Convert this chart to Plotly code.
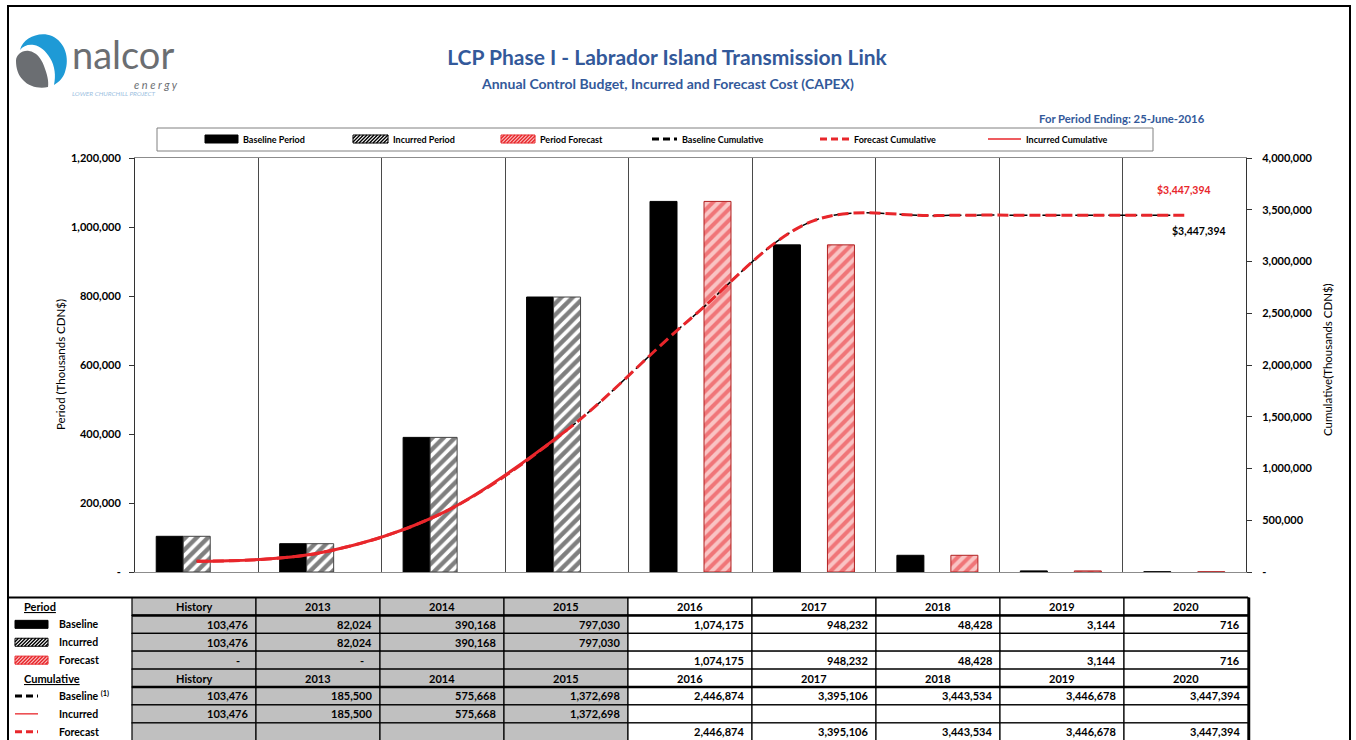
import plotly.graph_objects as go

# ---------------- data ----------------
categories = ["History", "2013", "2014", "2015", "2016", "2017", "2018", "2019", "2020"]

baseline_period = [103476, 82024, 390168, 797030, 1074175, 948232, 48428, 3144, 716]
incurred_period = [103476, 82024, 390168, 797030, None, None, None, None, None]
forecast_period = [0, 0, None, None, 1074175, 948232, 48428, 3144, 716]

baseline_cum = [103476, 185500, 575668, 1372698, 2446874, 3395106, 3443534, 3446678, 3447394]
incurred_cum = [103476, 185500, 575668, 1372698, None, None, None, None, None]
forecast_cum = [None, None, None, None, 2446874, 3395106, 3443534, 3446678, 3447394]

period_ticks = [0, 200000, 400000, 600000, 800000, 1000000, 1200000]
cum_ticks = [0, 500000, 1000000, 1500000, 2000000, 2500000, 3000000, 3500000, 4000000]

# ---------------- geometry helpers (pixels -> paper) ----------------
W, H = 1356, 740
L, R, T, B = 135, 1246, 158, 572


def fx(px):
    return (px - L) / (R - L)


def fy(py):
    return (B - py) / (B - T)


def fmt(v):
    if v is None:
        return ""
    if v == 0:
        return "-"
    return f"{v:,}"


def path_px(spec):
    """Convert an SVG path written in pixel coordinates into paper coordinates."""
    out, nums = [], []
    for tok in spec.replace(",", " ").split():
        if tok.isalpha():
            out.append(tok)
        else:
            nums.append(float(tok))
            if len(nums) == 2:
                out.append(f"{fx(nums[0]):.5f},{fy(nums[1]):.5f}")
                nums = []
    return " ".join(out)


def hatch_path(x0, y0, x1, y1, step):
    h = y1 - y0
    segs = []
    k = x0 - h
    while k < x1:
        xa, ya, xb, yb = k, y1, k + h, y0
        if xa < x0:
            ya = y1 - (x0 - xa)
            xa = x0
        if xb > x1:
            yb = y0 + (xb - x1)
            xb = x1
        if xb > xa:
            segs.append(f"M{fx(xa):.5f},{fy(ya):.5f} L{fx(xb):.5f},{fy(yb):.5f}")
        k += step
    return " ".join(segs)


BLUE = "#33599a"
RED = "#e8262b"
PINK = "#f9c4c4"
GREY_CELL = "#c0c0c0"
FONT = "Lato, 'Open Sans', sans-serif"

shapes = []
annotations = []


def swatch(kind, x0, x1, yc):
    """Small legend key drawn with shapes."""
    if kind == "bar_black":
        shapes.append(dict(type="rect", xref="paper", yref="paper", x0=fx(x0), x1=fx(x1),
                           y0=fy(yc + 4), y1=fy(yc - 4), fillcolor="black", line=dict(color="black", width=1)))
    elif kind in ("bar_hatch", "bar_red"):
        fg = "black" if kind == "bar_hatch" else RED
        bg = "white" if kind == "bar_hatch" else PINK
        shapes.append(dict(type="rect", xref="paper", yref="paper", x0=fx(x0), x1=fx(x1),
                           y0=fy(yc + 4), y1=fy(yc - 4), fillcolor=bg, line=dict(color=fg, width=1)))
        shapes.append(dict(type="path", xref="paper", yref="paper",
                           path=hatch_path(x0, yc - 4, x1, yc + 4, 3.5), line=dict(color=fg, width=1.4)))
    else:
        color = "black" if kind == "line_black_dash" else RED
        width = 1.3 if kind == "line_red" else 3
        dash = "solid" if kind == "line_red" else "7px,4px"
        shapes.append(dict(type="line", xref="paper", yref="paper", x0=fx(x0), x1=fx(x1),
                           y0=fy(yc), y1=fy(yc), line=dict(color=color, width=width, dash=dash)))


def text(x, y, s, size=11, color="black", xanchor="center", **kw):
    annotations.append(dict(xref="paper", yref="paper", x=fx(x), y=fy(y), text=s, showarrow=False,
                            xanchor=xanchor, yanchor="middle", font=dict(size=size, color=color, family=FONT), **kw))


# ---------------- chart traces ----------------
fig = go.Figure()

fig.add_bar(x=categories, y=baseline_period, name="Baseline Period",
            marker=dict(color="black", line=dict(color="black", width=1)))
fig.add_bar(x=categories, y=incurred_period, name="Incurred Period",
            marker=dict(color="white", line=dict(color="#444444", width=1),
                        pattern=dict(shape="/", fgcolor="black", bgcolor="white", size=8, solidity=0.55)))
fig.add_bar(x=categories, y=forecast_period, name="Period Forecast",
            marker=dict(color=PINK, line=dict(color="#b02020", width=[0 if not v else 1 for v in forecast_period]),
                        pattern=dict(shape="/", fgcolor=RED, bgcolor=PINK, size=8, solidity=0.5)))

# forecast cumulative line continues from the incurred actuals
forecast_line = [f if f is not None else c for f, c in zip(forecast_cum, incurred_cum)]

fig.add_scatter(x=categories, y=baseline_cum, yaxis="y2", mode="lines", name="Baseline Cumulative",
                line=dict(color="black", width=1.5, dash="7px,4px", shape="spline", smoothing=1))
fig.add_scatter(x=categories, y=forecast_line, yaxis="y2", mode="lines", name="Forecast Cumulative",
                line=dict(color=RED, width=3, dash="11px,5px", shape="spline", smoothing=1))
fig.add_scatter(x=categories, y=incurred_cum, yaxis="y2", mode="lines", name="Incurred Cumulative",
                line=dict(color=RED, width=3, shape="spline", smoothing=1))

# end-of-line value labels (category axis positions are serial indices)
last = len(categories) - 1
annotations.append(dict(xref="x", yref="y2", x=last, y=forecast_cum[-1], text=f"<b>${forecast_cum[-1]:,}</b>",
                        showarrow=False, yshift=25, font=dict(size=10.5, color=RED, family=FONT)))
annotations.append(dict(xref="x", yref="y2", x=last, y=baseline_cum[-1], text=f"<b>${baseline_cum[-1]:,}</b>",
                        showarrow=False, yshift=-16, xshift=15, font=dict(size=10.5, color="black", family=FONT)))

# ---------------- titles ----------------
text(667, 83, "<b>Annual Control Budget, Incurred and Forecast Cost (CAPEX)</b>", size=14, color=BLUE)
text(1207, 118, "<b>For Period Ending: 25-June-2016</b>", size=11.3, color=BLUE, xanchor="right")
text(60, 365, "Period (Thousands CDN$)", size=11.5, textangle=-90)
text(1327, 360, "Cumulative(Thousands CDN$)", size=11.5, textangle=-90)

# ---------------- logo ----------------
shapes.append(dict(type="path", xref="paper", yref="paper", fillcolor="#1e9ad6", line=dict(width=0),
                   path=path_px("M 20 50 C 23 38 39 31 52 36 C 65 42 70 58 65 72 C 63 78 59 82 54 85 "
                                "C 56 76 55 66 50 58 C 46 51 40 46 34 45 C 28 44 23 46 20 50 Z")))
shapes.append(dict(type="path", xref="paper", yref="paper", fillcolor="#6b6e72", line=dict(width=0),
                   path=path_px("M 16 61 C 16 55 22 50 29 51 C 36 52 41 58 44 66 C 47 74 49 81 48 87 "
                                "C 40 89 29 87 23 80 C 18 75 16 68 16 61 Z")))
text(70, 54, "nalcor", size=38, color="#6b6e72", xanchor="left")
text(180, 84, "<i>e n e r g y</i>", size=11, color="#6b6e72", xanchor="right")
text(70, 94, "<i>LOWER CHURCHILL PROJECT</i>", size=6.5, color="#9dbfdf", xanchor="left")

# ---------------- legend box ----------------
shapes.append(dict(type="rect", xref="paper", yref="paper", x0=fx(157), x1=fx(1153), y0=fy(151), y1=fy(128),
                   line=dict(color="#808080", width=1)))
legend_items = [
    ("bar_black", 205, 238, "Baseline Period"),
    ("bar_hatch", 353, 388, "Incurred Period"),
    ("bar_red", 501, 535, "Period Forecast"),
    ("line_black_dash", 652, 677, "Baseline Cumulative"),
    ("line_red_dash", 820, 849, "Forecast Cumulative"),
    ("line_red", 988, 1021, "Incurred Cumulative"),
]
for kind, a, b, label in legend_items:
    swatch(kind, a, b, 139)
    text(b + 3, 139, f"<b>{label}</b>", size=9, xanchor="left")

# ---------------- data table ----------------
TX0, TCW, TY0, TRH = 132, 124, 597.5, 17.9
shaded = [v is not None for v in incurred_period]
rows = [
    ("header", "Period", None),
    ("Baseline", baseline_period, "bar_black"),
    ("Incurred", incurred_period, "bar_hatch"),
    ("Forecast", forecast_period, "bar_red"),
    ("header", "Cumulative", None),
    ("Baseline <sup>(1)</sup>", baseline_cum, "line_black_dash"),
    ("Incurred", incurred_cum, "line_red"),
    ("Forecast", forecast_cum, "line_red_dash"),
]
for r, (label, values, key) in enumerate(rows):
    y0 = TY0 + r * TRH
    y1 = y0 + TRH
    yc = (y0 + y1) / 2
    for c, cat in enumerate(categories):
        x0 = TX0 + c * TCW
        x1 = x0 + TCW
        shapes.append(dict(type="rect", xref="paper", yref="paper", x0=fx(x0), x1=fx(x1), y0=fy(y1), y1=fy(y0),
                           fillcolor=GREY_CELL if shaded[c] else "white", line=dict(color="black", width=1.2),
                           layer="below"))
        if label == "header":
            text((x0 + x1) / 2, yc, f"<b>{cat}</b>", size=11)
        else:
            v = values[c]
            s = fmt(v)
            if s:
                pad = 14 if s == "-" else 6
                text(x1 - pad, yc, f"<b>{s}</b>", size=11, xanchor="right")
    if label == "header":
        text(22, yc, f"<b><u>{values}</u></b>", size=11, xanchor="left")
        # heavier rule under each header row
        shapes.append(dict(type="line", xref="paper", yref="paper", x0=fx(TX0), x1=fx(TX0 + 9 * TCW),
                           y0=fy(y1), y1=fy(y1), line=dict(color="black", width=2.5)))
    else:
        swatch(key, 15, 48 if key.startswith("bar") else 38, yc)
        text(57, yc, f"<b>{label}</b>", size=10.5, xanchor="left")

# table outer rules
shapes.append(dict(type="line", xref="paper", yref="paper", x0=fx(8), x1=fx(TX0 + 9 * TCW),
                   y0=fy(TY0), y1=fy(TY0), line=dict(color="black", width=2)))
shapes.append(dict(type="line", xref="paper", yref="paper", x0=fx(TX0 + 9 * TCW + 1), x1=fx(TX0 + 9 * TCW + 1),
                   y0=fy(TY0), y1=fy(H + 5), line=dict(color="black", width=2.5)))

# page frame
shapes.append(dict(type="rect", xref="paper", yref="paper", x0=fx(8), x1=fx(1350), y0=fy(H + 10), y1=fy(6),
                   line=dict(color="black", width=2)))

# ---------------- layout ----------------
fig.update_layout(
    width=W, height=H, autosize=False,
    margin=dict(l=L, r=W - R, t=T, b=H - B, pad=0),
    paper_bgcolor="white", plot_bgcolor="white",
    barmode="group", bargap=0.344, bargroupgap=0,
    showlegend=False,
    font=dict(family=FONT, color="black"),
    title=dict(text="<b>LCP Phase I - Labrador Island Transmission Link</b>", x=667 / W, xref="container",
               xanchor="center", y=1 - 58 / H, yref="container", yanchor="middle",
               font=dict(size=21, color=BLUE, family=FONT)),
    xaxis=dict(type="category", range=[-0.5, last + 0.5], tickson="boundaries", showgrid=True,
               gridcolor="#4a4a4a", gridwidth=1, showticklabels=False, ticks="", showline=True,
               linecolor="#8c8c8c", linewidth=1, mirror=True, zeroline=False),
    yaxis=dict(range=[0, 1200000], tickvals=period_ticks, ticktext=[fmt(v) for v in period_ticks],
               showgrid=False, zeroline=False, ticks="outside", ticklen=5, tickcolor="#333333",
               showline=True, linecolor="#333333", linewidth=1, ticklabelstandoff=6,
               tickfont=dict(size=11, weight="bold", family=FONT)),
    yaxis2=dict(range=[0, 4000000], tickvals=cum_ticks, ticktext=[fmt(v) for v in cum_ticks],
                overlaying="y", side="right", showgrid=False, zeroline=False, ticks="outside", ticklen=5,
                tickcolor="#333333", showline=True, linecolor="#333333", linewidth=1, ticklabelstandoff=8,
                tickfont=dict(size=11, weight="bold", family=FONT)),
    shapes=shapes,
    annotations=annotations,
)

fig.write_html("out.html")
